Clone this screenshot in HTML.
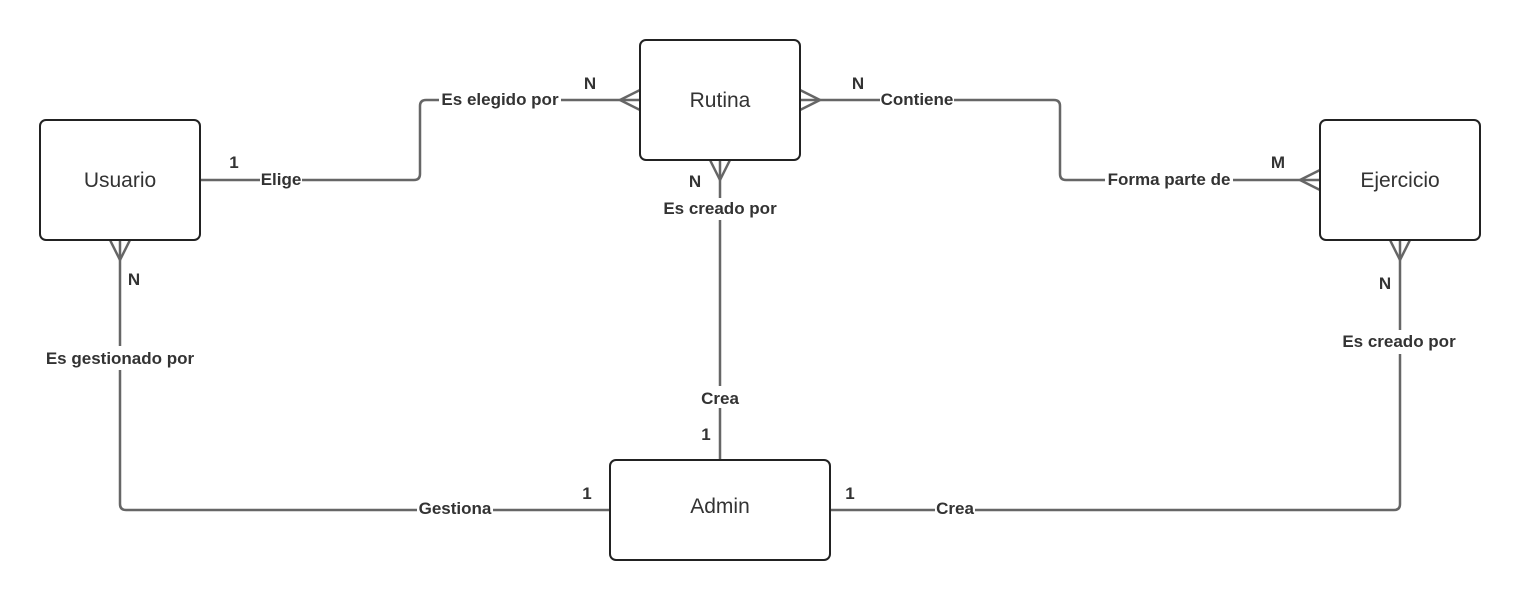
<!DOCTYPE html>
<html><head><meta charset="utf-8"><style>
html,body{margin:0;padding:0;background:#fff;}
svg{display:block;}
.b{font-family:"Liberation Sans",sans-serif;font-weight:bold;font-size:17px;fill:#333;}
.n{font-family:"Liberation Sans",sans-serif;font-size:21px;fill:#333;}
</style></head><body>
<svg width="1520" height="600" viewBox="0 0 1520 600" xmlns="http://www.w3.org/2000/svg">
<g fill="none" stroke="#666" stroke-width="2.5" stroke-linejoin="round">
<path d="M200 180 H414 Q420 180 420 174 V106 Q420 100 426 100 H640"/>
<path d="M620 100 L640 90 M620 100 L640 110"/>
<path d="M800 100 H1054 Q1060 100 1060 106 V174 Q1060 180 1066 180 H1320"/>
<path d="M820 100 L800 90 M820 100 L800 110"/>
<path d="M1300 180 L1320 170 M1300 180 L1320 190"/>
<path d="M720 160 V460"/>
<path d="M720 180 L710 160 M720 180 L730 160"/>
<path d="M120 240 V504 Q120 510 126 510 H610"/>
<path d="M120 260 L110 240 M120 260 L130 240"/>
<path d="M1400 240 V504 Q1400 510 1394 510 H830"/>
<path d="M1400 260 L1390 240 M1400 260 L1410 240"/>
</g>
<g fill="#fff" stroke="#222" stroke-width="2">
<rect x="40" y="120" width="160" height="120" rx="6"/>
<rect x="640" y="40" width="160" height="120" rx="6"/>
<rect x="1320" y="120" width="160" height="120" rx="6"/>
<rect x="610" y="460" width="220" height="100" rx="6"/>
</g>
<g class="n" text-anchor="middle">
<text x="120" y="187">Usuario</text>
<text x="720" y="107">Rutina</text>
<text x="1400" y="187">Ejercicio</text>
<text x="720" y="513">Admin</text>
</g>
<g fill="#fff">
<rect x="260" y="170" width="42" height="20"/>
<rect x="439" y="90" width="122" height="20"/>
<rect x="880" y="90" width="74" height="20"/>
<rect x="1105" y="170" width="128" height="20"/>
<rect x="659" y="198" width="122" height="22"/>
<rect x="42" y="346" width="156" height="24"/>
<rect x="1339" y="330" width="122" height="24"/>
<rect x="699" y="386" width="42" height="22"/>
<rect x="417" y="500" width="76" height="20"/>
<rect x="935" y="500" width="40" height="20"/>
</g>
<g class="b" text-anchor="middle">
<text x="281" y="185">Elige</text>
<text x="500" y="105">Es elegido por</text>
<text x="917" y="105">Contiene</text>
<text x="1169" y="185">Forma parte de</text>
<text x="720" y="214">Es creado por</text>
<text x="120" y="364">Es gestionado por</text>
<text x="1399" y="347">Es creado por</text>
<text x="720" y="404">Crea</text>
<text x="455" y="514">Gestiona</text>
<text x="955" y="514">Crea</text>
<text x="234" y="168">1</text>
<text x="590" y="89">N</text>
<text x="858" y="89">N</text>
<text x="1278" y="168">M</text>
<text x="695" y="187">N</text>
<text x="134" y="285">N</text>
<text x="1385" y="289">N</text>
<text x="706" y="440">1</text>
<text x="587" y="499">1</text>
<text x="850" y="499">1</text>
</g>
</svg>
</body></html>
